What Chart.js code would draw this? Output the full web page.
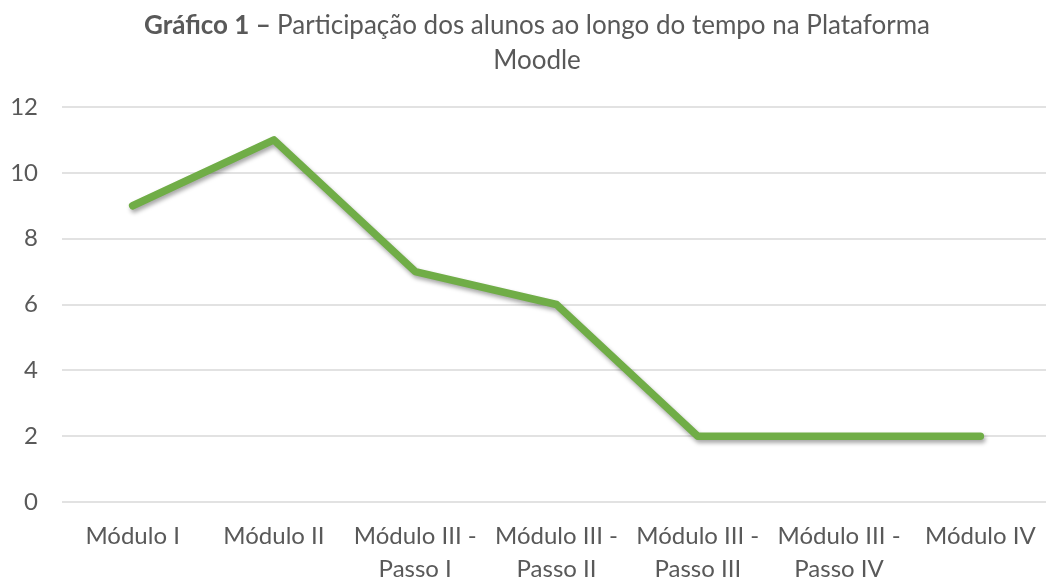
<!DOCTYPE html>
<html lang="pt">
<head>
<meta charset="utf-8">
<title>Gráfico 1</title>
<script src="https://cdn.jsdelivr.net/npm/chart.js@4"></script>
<style>
  html, body { margin: 0; padding: 0; background: #fff; overflow: hidden; }
  #chart { display: block; }
</style>
</head>
<body>
<canvas id="chart" width="1052" height="580"></canvas>
<script>
// Dados do gráfico
const categories = [
  ['Módulo I'],
  ['Módulo II'],
  ['Módulo III -', 'Passo I'],
  ['Módulo III -', 'Passo II'],
  ['Módulo III -', 'Passo III'],
  ['Módulo III -', 'Passo IV'],
  ['Módulo IV']
];
const participation = [9, 11, 7, 6, 2, 2, 2];
const titleBold = 'Gráfico 1 – ';
const titleRest = 'Participação dos alunos ao longo do tempo na Plataforma';
const titleLine2 = 'Moodle';

const textColor = '#595959';
const fontFamily = 'Lato, "Open Sans", sans-serif';

// Título com parte em negrito (o plugin de título do Chart.js não mistura pesos)
const mixedTitle = {
  id: 'mixedTitle',
  afterDraw(chart) {
    const ctx = chart.ctx;
    const cx = 537;
    ctx.save();
    ctx.fillStyle = textColor;
    ctx.textBaseline = 'alphabetic';
    ctx.textAlign = 'left';
    ctx.font = 'bold 26px ' + fontFamily;
    const wb = ctx.measureText(titleBold).width;
    ctx.font = '26px ' + fontFamily;
    const wr = ctx.measureText(titleRest).width;
    const x0 = cx - (wb + wr) / 2;
    ctx.font = 'bold 26px ' + fontFamily;
    ctx.fillText(titleBold, x0, 34);
    ctx.font = '26px ' + fontFamily;
    ctx.fillText(titleRest, x0 + wb, 34);
    ctx.textAlign = 'center';
    ctx.fillText(titleLine2, cx, 69);
    ctx.restore();
  }
};

// Sombra suave por baixo da linha
const lineShadow = {
  id: 'lineShadow',
  beforeDatasetsDraw(chart) {
    const ctx = chart.ctx;
    ctx.save();
    ctx.shadowColor = 'rgba(0,0,0,0.35)';
    ctx.shadowBlur = 4;
    ctx.shadowOffsetX = 1.5;
    ctx.shadowOffsetY = 3;
  },
  afterDatasetsDraw(chart) {
    chart.ctx.restore();
  }
};

new Chart(document.getElementById('chart'), {
  type: 'line',
  data: {
    labels: categories,
    datasets: [{
      label: 'Participação',
      data: participation,
      borderColor: '#70AD47',
      borderWidth: 7.5,
      borderCapStyle: 'round',
      borderJoinStyle: 'round',
      pointRadius: 0,
      pointHoverRadius: 0,
      tension: 0,
      fill: false
    }]
  },
  options: {
    responsive: false,
    animation: false,
    layout: { padding: { top: 107, right: 1, bottom: 0, left: 0 } },
    plugins: {
      legend: { display: false },
      title: { display: false },
      tooltip: { enabled: false }
    },
    scales: {
      x: {
        offset: true,
        grid: { display: false },
        border: { display: false },
        ticks: {
          color: textColor,
          font: { family: fontFamily, size: 24, lineHeight: 1.38 },
          padding: 10,
          maxRotation: 0,
          autoSkip: false
        },
        afterFit(scale) { scale.height = 78; }
      },
      y: {
        min: 0,
        max: 12,
        grid: { color: '#e2e2e2', lineWidth: 2, drawTicks: false },
        border: { display: false },
        ticks: {
          stepSize: 2,
          color: textColor,
          font: { family: fontFamily, size: 24 },
          padding: 24
        },
        afterFit(scale) { scale.width = 62; }
      }
    }
  },
  plugins: [mixedTitle, lineShadow]
});
</script>
</body>
</html>
